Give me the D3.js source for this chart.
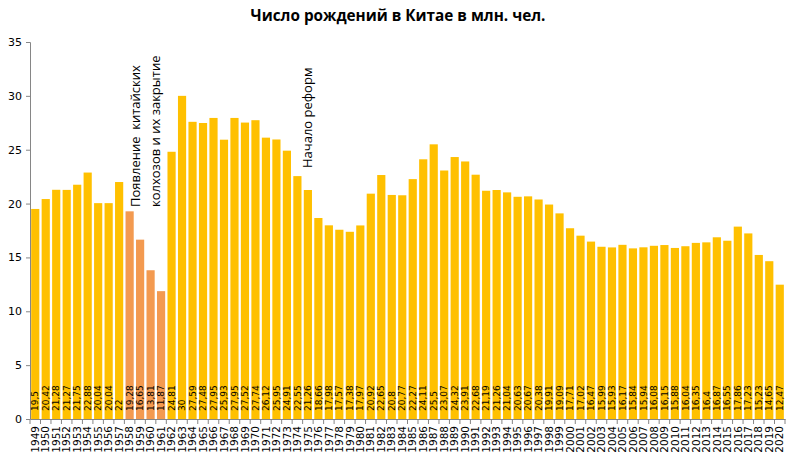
<!DOCTYPE html>
<html><head><meta charset="utf-8">
<script src="https://cdn.jsdelivr.net/npm/d3@7"></script>
<style>body{margin:0;background:#fff}svg{display:block}</style>
</head><body>
<svg id="c" width="796" height="459"></svg>
<script>
const years = d3.range(1949, 2021).map(String);
const births = [19.5,20.42,21.28,21.27,21.75,22.88,20.04,20.04,22,19.28,16.65,13.81,11.87,24.81,30,27.59,27.48,27.95,25.93,27.95,27.52,27.74,26.12,25.95,24.91,22.55,21.26,18.66,17.98,17.57,17.38,17.97,20.92,22.65,20.8,20.77,22.27,24.11,25.5,23.07,24.32,23.91,22.68,21.19,21.26,21.04,20.63,20.67,20.38,19.91,19.09,17.71,17.02,16.47,15.99,15.93,16.17,15.84,15.94,16.08,16.15,15.88,16.04,16.35,16.4,16.87,16.55,17.86,17.23,15.23,14.65,12.47];
const highlightYears = ["1958","1959","1960","1961"];
const yTicks = [0,5,10,15,20,25,30,35];
const title = "Число рождений в Китае в млн. чел.";
const notes = [
  {year:"1958", lines:["Появление  китайских","колхозов и их закрытие"]},
  {year:"1975", lines:["Начало реформ"]}
];

const svg = d3.select("#c");
const x = d3.scaleBand().domain(years).range([30, 785]).paddingInner(0.22).paddingOuter(0.11);
const y = d3.scaleLinear().domain([0, 35]).range([419, 42]);

svg.append("text").attr("x", 398).attr("y", 21).attr("text-anchor","middle")
  .attr("font-family","Open Sans").attr("font-weight","bold").attr("font-size",15.3)
  .text(title);

// bars
svg.append("g").selectAll("rect").data(years).join("rect")
  .attr("x", d => x(d)).attr("width", x.bandwidth())
  .attr("y", (d,i) => y(births[i])).attr("height", (d,i) => y(0) - y(births[i]))
  .attr("fill", d => highlightYears.includes(d) ? "#F39A50" : "#FFC000");

// y axis
const ya = svg.append("g").attr("transform","translate(30,0)")
  .call(d3.axisLeft(y).tickValues(yTicks).tickSize(4).tickPadding(4));
ya.select(".domain").attr("stroke","#868686");
ya.selectAll(".tick line").attr("stroke","#868686");
ya.selectAll("text").attr("font-family","DejaVu Sans").attr("font-size",11).attr("fill","#000");

// x axis
const xa = svg.append("g").attr("transform","translate(0,419)")
  .call(d3.axisBottom(x).tickSize(0).tickFormat(""));
xa.select(".domain").attr("stroke","#868686");
xa.selectAll(".tick").remove();
const step = x.step();
xa.selectAll("line.b").data(d3.range(years.length + 1)).join("line").attr("class","b")
  .attr("x1", i => x.range()[0] + i*step).attr("x2", i => x.range()[0] + i*step)
  .attr("y1", 0).attr("y2", 5).attr("stroke","#868686");
xa.selectAll("text.yr").data(years).join("text").attr("class","yr")
  .attr("transform", d => `translate(${x(d)+x.bandwidth()/2},7) rotate(-90)`)
  .attr("text-anchor","end").attr("dy","0.35em")
  .attr("font-family","DejaVu Sans").attr("font-size",10.5).attr("fill","#000")
  .text(d => d);

// value labels
svg.append("g").selectAll("text").data(years).join("text")
  .attr("transform", d => `translate(${x(d)+x.bandwidth()/2},411) rotate(-90)`)
  .attr("text-anchor","start").attr("dy","0.35em")
  .attr("font-family","DejaVu Sans").attr("font-size",9).attr("fill","#000")
  .text((d,i) => String(births[i]).replace(".", ","));

// annotations
const ann = [{year:"1958", dx:[9.5, 29.5], yb:207}, {year:"1975", dx:[4], yb:168}];
notes.forEach((n, k) => {
  n.lines.forEach((line, j) => {
    svg.append("text")
      .attr("transform", `translate(${x(n.year) + ann[k].dx[j]},${ann[k].yb}) rotate(-90)`)
      .attr("text-anchor","start").attr("dy","0.35em")
      .attr("font-family","Open Sans").attr("font-size",13).attr("fill","#000")
      .attr("xml:space","preserve")
      .text(line);
  });
});
</script>
</body></html>
